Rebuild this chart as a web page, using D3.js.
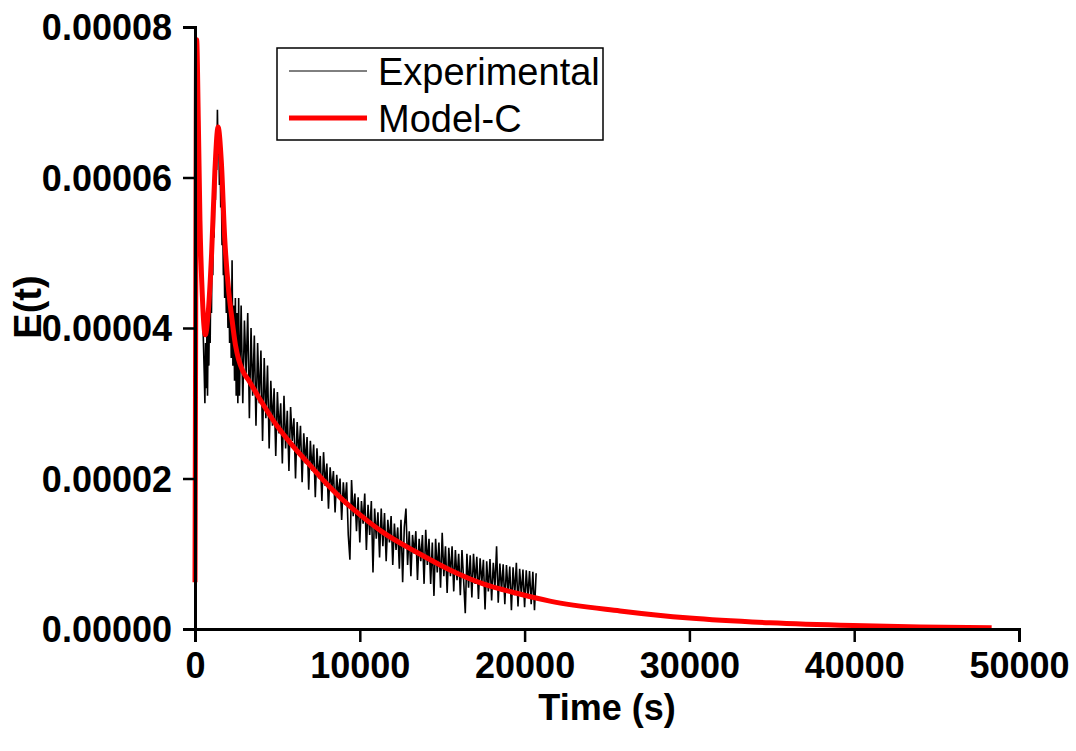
<!DOCTYPE html>
<html>
<head>
<meta charset="utf-8">
<script src="https://d3js.org/d3.v7.min.js"></script>
<style>
  body { margin: 0; background: #fff; }
  text { font-family: "Liberation Sans", Arial, sans-serif; }
</style>
</head>
<body>
<div id="svg"></div>
<script>
// Model-C curve (time in s, E(t) in units of 1e-6)
var modelTime = [0, 40, 100, 200, 300, 450, 625, 800, 1010, 1210, 1400, 1600, 1800, 2040, 2225, 2450, 2650, 2900, 3300, 3840, 4850, 5870, 6880, 7900, 8900, 10000, 11430, 13450, 15470, 17490, 19520, 21540, 25790, 30000, 34890, 39930, 44000, 48340];
var modelE = [6.2, 40, 78.3, 67.6, 54.3, 44, 39.1, 42, 50, 61, 66.7, 62, 52, 45, 41.5, 37.8, 35.8, 34.3, 32.9, 30.9, 27.4, 24.5, 22.0, 19.5, 17.3, 15.2, 12.8, 10.2, 7.85, 6.0, 4.75, 3.7, 2.4, 1.45, 0.82, 0.45, 0.27, 0.15];

// Experimental trace (time in s, E(t) in units of 1e-6)
var expTime = [0, 15, 50, 100, 150, 200, 260, 320, 380, 440, 500, 560, 600, 640, 680, 720, 760, 800, 840, 880, 920, 960, 1000, 1040, 1080, 1120, 1160, 1200, 1240, 1280, 1320, 1360, 1400, 1440, 1480, 1520, 1560, 1600, 1640, 1680, 1720, 1760, 1800, 1850, 1900, 1950, 2000, 2050, 2100, 2150, 2200, 2250, 2300, 2350, 2400, 2450, 2500, 2550, 2600, 2650,
  2700, 2800, 2900, 3000, 3100, 3200, 3300, 3400, 3500, 3600,
  3700, 3800, 3900, 4000, 4100, 4200, 4300, 4400, 4500, 4600,
  4700, 4800, 4900, 5000, 5100, 5200, 5300, 5400, 5500, 5600,
  5700, 5800, 5900, 6000, 6100, 6200, 6300, 6400, 6500, 6600,
  6700, 6800, 6900, 7000, 7100, 7200, 7300, 7400, 7500, 7600,
  7700, 7800, 7900, 8000, 8100, 8200, 8300, 8400, 8500, 8600,
  8700, 8800, 8900, 9000, 9100, 9200, 9300, 9400, 9500, 9600,
  9700, 9800, 9900, 10000, 10100, 10200, 10300, 10400, 10500, 10600,
  10700, 10800, 10900, 11000, 11100, 11200, 11300, 11400, 11500, 11600,
  11700, 11800, 11900, 12000, 12100, 12200, 12300, 12400, 12500, 12600,
  12700, 12800, 12900, 13000, 13100, 13200, 13300, 13400, 13500, 13600,
  13700, 13800, 13900, 14000, 14100, 14200, 14300, 14400, 14500, 14600,
  14700, 14800, 14900, 15000, 15100, 15200, 15300, 15400, 15500, 15600,
  15700, 15800, 15900, 16000, 16100, 16200, 16300, 16400, 16500, 16600,
  16700, 16800, 16900, 17000, 17100, 17200, 17300, 17400, 17500, 17600,
  17700, 17800, 17900, 18000, 18100, 18200, 18300, 18400, 18500, 18600,
  18700, 18800, 18900, 19000, 19100, 19200, 19300, 19400, 19500, 19600,
  19700, 19800, 19900, 20000, 20100, 20200, 20300, 20400, 20500, 20600,
  20700];
var expE = [6, 80, 79, 76, 72, 66, 60, 53, 48, 43, 39, 34, 30, 38, 32, 39, 31, 41, 35, 43, 38, 47, 42, 51, 47, 56, 52, 60, 57, 64, 61, 69, 63, 66, 59, 63, 56, 59, 51, 55, 47, 51, 44, 49, 42, 47, 40, 46, 38, 44, 36, 49, 35, 43, 33, 44, 31, 42, 30, 44,
  31, 43, 30, 41, 34, 42, 28, 40, 31, 39,
  27, 38, 30, 37, 25, 36, 28, 35, 24, 33,
  27, 32, 23, 31.5, 26, 30, 22, 31, 24, 29,
  21, 29.5, 25, 28, 20, 27.5, 23, 27, 19.5, 26,
  22, 25.5, 18.5, 25, 21, 24.5, 17.5, 24, 20, 23,
  17, 23.5, 19, 22, 16, 21.5, 18.5, 21, 15.5, 20.5,
  17.5, 20, 14.5, 19.5, 16.5, 19.5, 12.5, 9.2, 19.8, 15,
  18, 13, 17.5, 11.5, 17, 14, 18, 10.5, 16.5, 12.5,
  17, 7.5, 16, 12, 15.5, 9.5, 16, 11, 15.4, 9,
  14.5, 11.5, 15, 8.5, 14, 10.5, 13.5, 8, 14.5, 6.2,
  13.5, 16, 8.5, 13, 7, 12.5, 10, 13, 6.5, 12,
  9, 12.5, 6, 13.2, 8.5, 12, 6, 11.5, 4.4, 12,
  7.5, 11.5, 5.5, 12.8, 7, 11, 4.8, 10.8, 7, 11,
  5, 10.5, 6.5, 10, 4.5, 10.5, 6.5, 2.1, 10, 5.5,
  9.8, 4.2, 10, 6, 9.6, 4, 9.4, 6, 9.2, 2.6,
  9, 5, 9.3, 3.8, 8.8, 5.5, 11, 3.5, 8.7, 5,
  8.6, 3.3, 8.5, 4.8, 8.3, 2.5, 8.2, 4.5, 8.8, 3,
  8, 4.5, 7.9, 2.9, 7.8, 4.2, 7.7, 3.3, 7.6, 2.5,
  7.4];

var xTicks = [0, 10000, 20000, 30000, 40000, 50000];
var yTicks = [0, 0.00002, 0.00004, 0.00006, 0.00008];
var seriesNames = ["Experimental", "Model-C"];

var svgWidth = 1076;
var svgHeight = 751;

var svg = d3.select("#svg")
    .append("svg")
    .attr("width", svgWidth)
    .attr("height", svgHeight);

// scales
var xScale = d3.scaleLinear().domain([0, 50000]).range([195, 1019]);
var yScale = d3.scaleLinear().domain([0, 0.00008]).range([629, 27]);

var expData = expTime.map((t, i) => ({t: t, v: expE[i] * 1e-6}));
var modelData = modelTime.map((t, i) => ({t: t, v: modelE[i] * 1e-6}));

// experimental trace
svg.append("path")
    .datum(expData)
    .attr("fill", "none")
    .attr("stroke", "#000")
    .attr("stroke-width", 1.6)
    .attr("d", d3.line().x(d => xScale(d.t)).y(d => yScale(d.v)));

// model curve
svg.append("path")
    .datum(modelData)
    .attr("fill", "none")
    .attr("stroke", "#ff0000")
    .attr("stroke-width", 5)
    .attr("stroke-linejoin", "round")
    .attr("d", d3.line().curve(d3.curveMonotoneX).x(d => xScale(d.t)).y(d => yScale(d.v)));

// axes: minor ticks first, then major ticks with labels
var xAxis = svg.append("g")
    .attr("transform", "translate(0,629)")
    .call(d3.axisBottom(xScale).tickValues(d3.range(0, 50001, 5000)).tickSize(7).tickFormat(""));
xAxis.call(d3.axisBottom(xScale).tickValues(xTicks).tickSize(13).tickPadding(10).tickFormat(d3.format("d")));

var yAxis = svg.append("g")
    .attr("transform", "translate(195,0)")
    .call(d3.axisLeft(yScale).tickValues(d3.range(0, 0.000081, 0.00001)).tickSize(6).tickFormat(""));
yAxis.call(d3.axisLeft(yScale).tickValues(yTicks).tickSize(12).tickPadding(11).tickFormat(d => d.toFixed(5)));

svg.selectAll(".domain")
    .attr("stroke", "#000")
    .attr("stroke-width", 3);
svg.selectAll(".tick line")
    .attr("stroke", "#000")
    .attr("stroke-width", 2.5);
svg.selectAll(".tick text")
    .attr("fill", "#000")
    .attr("font-family", "Liberation Sans, Arial, sans-serif")
    .attr("font-size", 36)
    .attr("font-weight", "bold");
yAxis.selectAll(".tick text").attr("dy", "0.35em");

// axis titles
svg.append("text")
    .attr("x", 607)
    .attr("y", 720)
    .attr("text-anchor", "middle")
    .attr("font-size", 36)
    .attr("font-weight", "bold")
    .text("Time (s)");
svg.append("text")
    .attr("transform", "translate(41,307)rotate(-90)")
    .attr("text-anchor", "middle")
    .attr("font-size", 38)
    .attr("font-weight", "bold")
    .text("E(t)");

// legend
var legend = svg.append("g");
legend.append("rect")
    .attr("x", 277)
    .attr("y", 48)
    .attr("width", 326)
    .attr("height", 92)
    .attr("fill", "#fff")
    .attr("stroke", "#000")
    .attr("stroke-width", 1.5);
var legColors = ["#000", "#ff0000"];
var legWidths = [1, 5];
seriesNames.forEach((name, i) => {
    var yy = 71 + i * 47;
    legend.append("line")
        .attr("x1", 289).attr("x2", 367)
        .attr("y1", yy).attr("y2", yy)
        .attr("stroke", legColors[i])
        .attr("stroke-width", legWidths[i]);
    legend.append("text")
        .attr("x", 378)
        .attr("y", yy + 14)
        .attr("font-size", 38)
        .text(name);
});
</script>
</body>
</html>
